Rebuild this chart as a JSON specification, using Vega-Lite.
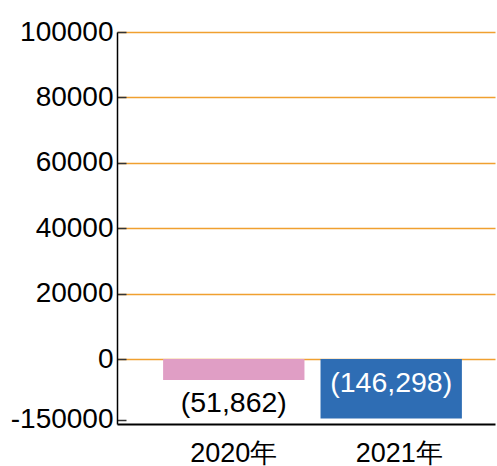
{
  "$schema": "https://vega.github.io/schema/vega-lite/v6.json",
  "width": 378,
  "height": 392,
  "autosize": {"type": "none"},
  "padding": {"left": 117, "top": 32, "right": 2, "bottom": 42},
  "background": "white",
  "config": {"view": {"stroke": null}, "font": "Liberation Sans"},
  "data": {"values": [
    {"year": "2020年", "value": -51862, "label": "(51,862)"},
    {"year": "2021年", "value": -146298, "label": "(146,298)"}
  ]},
  "encoding": {
    "x": {
      "field": "year", "type": "nominal",
      "scale": {"paddingInner": 0.102, "paddingOuter": 0.2516, "align": 0.582},
      "axis": {"title": null, "labelAngle": 0, "ticks": false, "domainColor": "#000", "domainWidth": 2,
               "labelFontSize": 27, "labelColor": "#000", "labelPadding": 16,
               "labelOffset": {"condition": {"test": "datum.value === '2021年'", "value": 8}, "value": 0}}
    }
  },
  "layer": [
    {
      "mark": {"type": "bar"},
      "encoding": {
        "y": {
          "field": "value", "type": "quantitative",
          "scale": {"domain": [-150000, 0, 100000], "range": [392, 327, 0]},
          "axis": {"title": null, "values": [-150000, 0, 20000, 40000, 60000, 80000, 100000],
                   "labelExpr": "'' + datum.value",
                   "labelFontSize": 28, "labelColor": "#000", "gridColor": "#F0A030", "gridWidth": 1.5,
                   "gridOpacity": {"condition": {"test": "datum.value === -150000", "value": 0}, "value": 1},
                   "tickColor": "#333", "tickSize": -9, "tickWidth": 1.5, "domainColor": "#000", "domainWidth": 1.5,
                   "labelPadding": 13}
        },
        "color": {"field": "year", "type": "nominal", "scale": {"range": ["#E09EC5", "#2E6DB4"]}, "legend": null}
      }
    },
    {
      "transform": [{"filter": "datum.year === '2020年'"}],
      "mark": {"type": "text", "fontSize": 28.5, "color": "#000", "baseline": "middle", "dy": 23},
      "encoding": {
        "y": {"field": "value", "type": "quantitative"},
        "text": {"field": "label"}
      }
    },
    {
      "transform": [{"filter": "datum.year === '2021年'"}],
      "mark": {"type": "text", "fontSize": 28.5, "color": "#fff", "baseline": "middle", "dy": 24},
      "encoding": {
        "y": {"datum": 0, "type": "quantitative"},
        "text": {"field": "label"}
      }
    }
  ]
}
